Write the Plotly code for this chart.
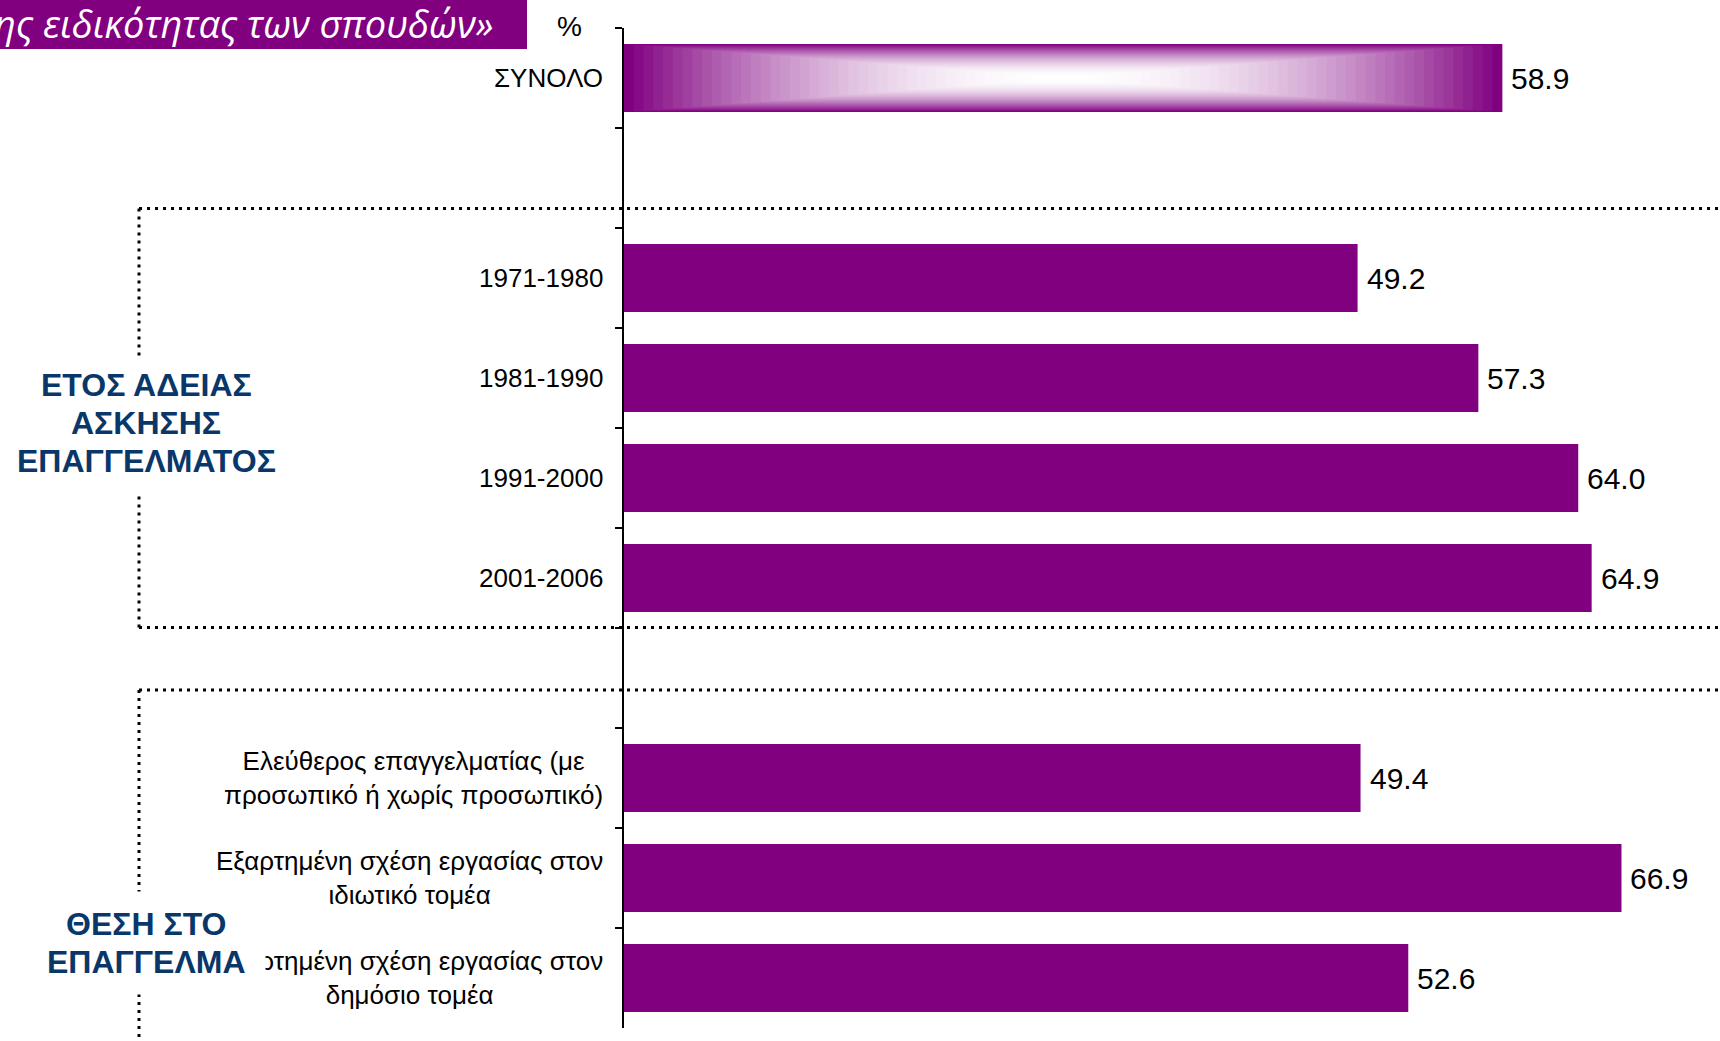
import plotly.graph_objects as go

# ---------------- data ----------------
categories = [
    "ΣΥΝΟΛΟ",
    " ",
    "1971-1980",
    "1981-1990",
    "1991-2000",
    "2001-2006",
    "  ",
    "Ελεύθερος επαγγελματίας (με<br>προσωπικό ή χωρίς προσωπικό)",
    "Εξαρτημένη σχέση εργασίας στον<br>ιδιωτικό τομέα",
    "Εξαρτημένη σχέση εργασίας στον<br>δημόσιο τομέα",
]
values = [58.9, None, 49.2, 57.3, 64.0, 64.9, None, 49.4, 66.9, 52.6]
group_top_lines = ["ΕΤΟΣ ΑΔΕΙΑΣ", "ΑΣΚΗΣΗΣ", "ΕΠΑΓΓΕΛΜΑΤΟΣ"]
group_bottom_lines = ["ΘΕΣΗ ΣΤΟ", "ΕΠΑΓΓΕΛΜΑ"]
title_text = "ης ειδικότητας των σπουδών»"
unit_label = "%"

# ---------------- style / layout ----------------
PURPLE = "#800080"
NAVY = "#0a3769"
FONT = "Liberation Sans, Arial, sans-serif"
W_PX, H_PX = 1720, 1041
L, R, T, B = 624, 0, 28, 13
PW, PH = W_PX - L - R, H_PX - T - B
SCALE = 14.91  # px per percentage unit
BARGAP = 0.32


def px(x):
    return (x - L) / PW


def py(y):
    return 1 - (y - T) / PH


fig = go.Figure()
fig.add_trace(go.Bar(
    y=categories, x=values, orientation="h",
    marker=dict(color=PURPLE, line=dict(width=0)),
    hoverinfo="skip", showlegend=False,
))

shapes = []
# gradient overlay on the total bar (rectangular path gradient)
v0 = values[0]
hh = (1 - BARGAP) / 2
N = 45
for k in range(N):
    s = 1 - k / N
    f = 1 - s ** 2
    r = int(round(128 + (255 - 128) * f))
    g = int(round(0 + 255 * f))
    b = int(round(128 + (255 - 128) * f))
    shapes.append(dict(
        type="rect", xref="x", yref="y",
        x0=v0 / 2 * (1 - s), x1=v0 / 2 * (1 + s),
        y0=0 - hh * s, y1=0 + hh * s,
        fillcolor=f"rgb({r},{g},{b})", line=dict(width=0), layer="above",
    ))

# dotted bracket lines
dot = dict(color="black", width=3, dash="3px,5px")
bx = px(139)
for (x0, y0, x1, y1) in [
    (bx, py(208.5), 1, py(208.5)),
    (bx, py(208.5), bx, py(627.5)),
    (bx, py(627.5), 1, py(627.5)),
    (bx, py(690), 1, py(690)),
    (bx, py(690), bx, py(1045)),
]:
    shapes.append(dict(type="line", xref="paper", yref="paper",
                       x0=x0, y0=y0, x1=x1, y1=y1, line=dot, layer="above"))

# title box
shapes.append(dict(type="rect", xref="paper", yref="paper",
                   x0=px(-10), x1=px(527), y0=py(49), y1=py(-5),
                   fillcolor=PURPLE, line=dict(width=0), layer="above"))

annotations = []
# category labels
for c in categories:
    if c.strip():
        annotations.append(dict(
            x=0, xref="paper", y=c, yref="y", xanchor="right", yanchor="middle",
            xshift=-19, text=c, showarrow=False, align="center",
            font=dict(family=FONT, size=26, color="black"),
        ))
# value labels
for c, v in zip(categories, values):
    if v is not None:
        annotations.append(dict(
            x=v, xref="x", y=c, yref="y", xanchor="left", yanchor="middle",
            xshift=7, text=f"{v:.1f}", showarrow=False,
            font=dict(family=FONT, size=30, color="black"),
        ))


def mask(x0, x1, y0, y1):
    # white box interrupting dotted lines / covering text behind the group label
    return dict(x=px(x0), xref="paper", y=py(y0), yref="paper",
                xanchor="left", yanchor="top", width=x1 - x0, height=y1 - y0,
                text="\u00a0", showarrow=False, bgcolor="white", borderpad=0,
                font=dict(family=FONT, size=10, color="white"))


annotations.append(mask(20, 276, 357, 494))
annotations.append(mask(30, 264, 891, 993))

for line, yc in zip(group_top_lines, [385, 423, 461]):
    annotations.append(dict(
        x=px(146), xref="paper", y=py(yc), yref="paper", xanchor="center", yanchor="middle",
        text=f"<b>{line}</b>", showarrow=False,
        font=dict(family=FONT, size=32, color=NAVY),
    ))
for line, yc in zip(group_bottom_lines, [924, 962]):
    annotations.append(dict(
        x=px(146), xref="paper", y=py(yc), yref="paper", xanchor="center", yanchor="middle",
        text=f"<b>{line}</b>", showarrow=False,
        font=dict(family=FONT, size=32, color=NAVY),
    ))

# title text
annotations.append(dict(
    x=px(495), xref="paper", y=py(23), yref="paper", xanchor="right", yanchor="middle",
    text=title_text, showarrow=False,
    font=dict(family="Open Sans, sans-serif", size=38, color="white", style="italic"),
))
# unit
annotations.append(dict(
    x=px(569), xref="paper", y=py(26), yref="paper", xanchor="center", yanchor="middle",
    text=unit_label, showarrow=False,
    font=dict(family=FONT, size=28, color="black"),
))

fig.update_layout(
    width=W_PX, height=H_PX,
    margin=dict(l=L, r=R, t=T, b=B, pad=0),
    paper_bgcolor="white", plot_bgcolor="white",
    bargap=BARGAP,
    shapes=shapes, annotations=annotations,
    xaxis=dict(range=[0, PW / SCALE], visible=False, fixedrange=True),
    yaxis=dict(
        type="category", categoryorder="array", categoryarray=categories,
        range=[len(categories) - 0.5, -0.5],
        showline=True, linecolor="black", linewidth=2,
        ticks="outside", ticklen=7, tickwidth=2, tickcolor="black",
        tickson="boundaries", showticklabels=False,
        showgrid=False, zeroline=False, fixedrange=True,
    ),
)

fig.write_html(
    "out.html",
    config={"displayModeBar": False},
    post_script="document.body.style.margin='0';document.body.style.overflow='hidden';",
)
